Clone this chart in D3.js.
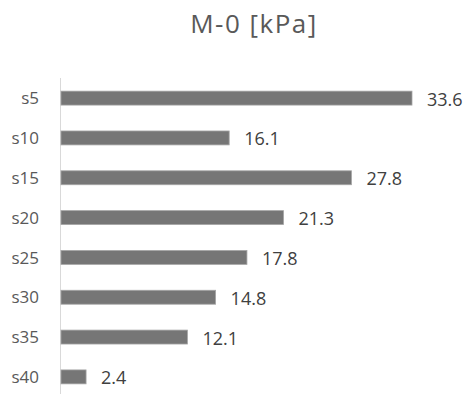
<!DOCTYPE html>
<html><head><meta charset="utf-8">
<script src="https://cdn.jsdelivr.net/npm/d3@7"></script>
<style>body{margin:0;background:#fff}</style>
</head><body>
<svg id="c" width="471" height="394"></svg>
<script>
const categories = ["s5","s10","s15","s20","s25","s30","s35","s40"];
const values = [33.6,16.1,27.8,21.3,17.8,14.8,12.1,2.4];
const title = "M-0 [kPa]";

const svg = d3.select("#c");
const x0 = 61;
const x = d3.scaleLinear().domain([0, 33.6]).range([x0, 412]);
const y = d3.scaleBand().domain(categories).range([78, 397]).paddingInner(0.65).paddingOuter(0.33);

svg.append("text").attr("x", 254).attr("y", 33).attr("text-anchor","middle")
  .attr("font-family","Open Sans, sans-serif").attr("font-size", 26).attr("letter-spacing", 1.5)
  .attr("fill","#595959").text(title);

svg.append("line").attr("x1", 60.5).attr("x2", 60.5).attr("y1", 78).attr("y2", 397)
  .attr("stroke","#d9d9d9").attr("stroke-width",1);

svg.selectAll("rect.bar").data(values).join("rect").attr("class","bar")
  .attr("x", x0).attr("y", (d,i)=>y(categories[i]))
  .attr("width", d=>x(d)-x0).attr("height", y.bandwidth())
  .attr("fill","#767676").attr("stroke","#a5a5a5").attr("stroke-width",0.8);

svg.selectAll("text.cat").data(categories).join("text").attr("class","cat")
  .attr("x", 39).attr("y", d=>y(d)+y.bandwidth()/2).attr("dy","0.36em")
  .attr("text-anchor","end").attr("font-family","Open Sans, sans-serif").attr("font-size",17)
  .attr("fill","#595959").text(d=>d);

svg.selectAll("text.val").data(values).join("text").attr("class","val")
  .attr("x", d=>x(d)+15).attr("y", (d,i)=>y(categories[i])+y.bandwidth()/2).attr("dy","0.42em")
  .attr("font-family","Open Sans, sans-serif").attr("font-size",18)
  .attr("fill","#404040").text(d=>d.toFixed(1));
</script>
</body></html>
